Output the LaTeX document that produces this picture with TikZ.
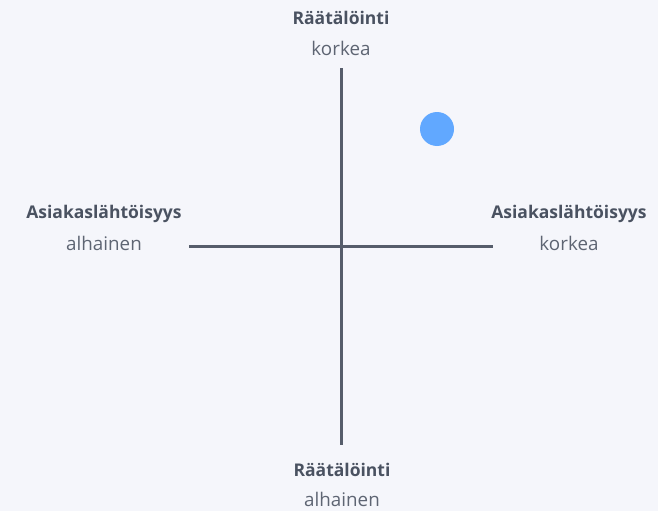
\documentclass[tikz,border=0pt]{standalone}
\usepackage{fontspec}
\setmainfont{Open Sans}
\usepackage{xcolor}
\usepackage{tikz}
\usetikzlibrary{positioning}
\definecolor{bgpale}{HTML}{F5F6FB}
\definecolor{axisgray}{HTML}{565D6B}
\definecolor{headgray}{HTML}{4A5261}
\definecolor{subgray}{HTML}{5E6573}
\definecolor{dotblue}{HTML}{61A8FF}

\begin{document}
\begin{tikzpicture}[x=1pt, y=-1pt,
    axisline/.style={draw=axisgray, line width=3pt},
    headlbl/.style={text=headgray, font=\fontsize{17.5}{20}\selectfont\bfseries, inner sep=0pt},
    sublbl/.style={text=subgray, font=\fontsize{18.8}{21}\selectfont, inner sep=0pt}]
    \fill[bgpale] (0,0) rectangle (658,511);
    \useasboundingbox (0,0) rectangle (658,511);
    % axes
    \coordinate (ytop) at (341,68);
    \coordinate (ybot) at (341,445);
    \coordinate (xleft) at (189,246);
    \coordinate (xright) at (493,246);
    \draw[axisline] (ytop) -- (ybot);
    \draw[axisline] (xleft) -- (xright);
    % labels
    \node[headlbl] (tophead) at (341,18) {Räätälöinti};
    \node[sublbl] (topsub) at (341,48) {korkea};
    \node[headlbl] (bothead) at (342,470) {Räätälöinti};
    \node[sublbl] (botsub) at (342,499) {alhainen};
    \node[headlbl] (lefthead) at (104,214) {Asiakaslähtöisyys};
    \node[sublbl] (leftsub) at (104,243) {alhainen};
    \node[headlbl] (righthead) at (569,214) {Asiakaslähtöisyys};
    \node[sublbl] (rightsub) at (569,243) {korkea};
    % position
    \node[circle, fill=dotblue, minimum size=34pt, inner sep=0pt] (dot) at (437,129) {};
\end{tikzpicture}
\end{document}
